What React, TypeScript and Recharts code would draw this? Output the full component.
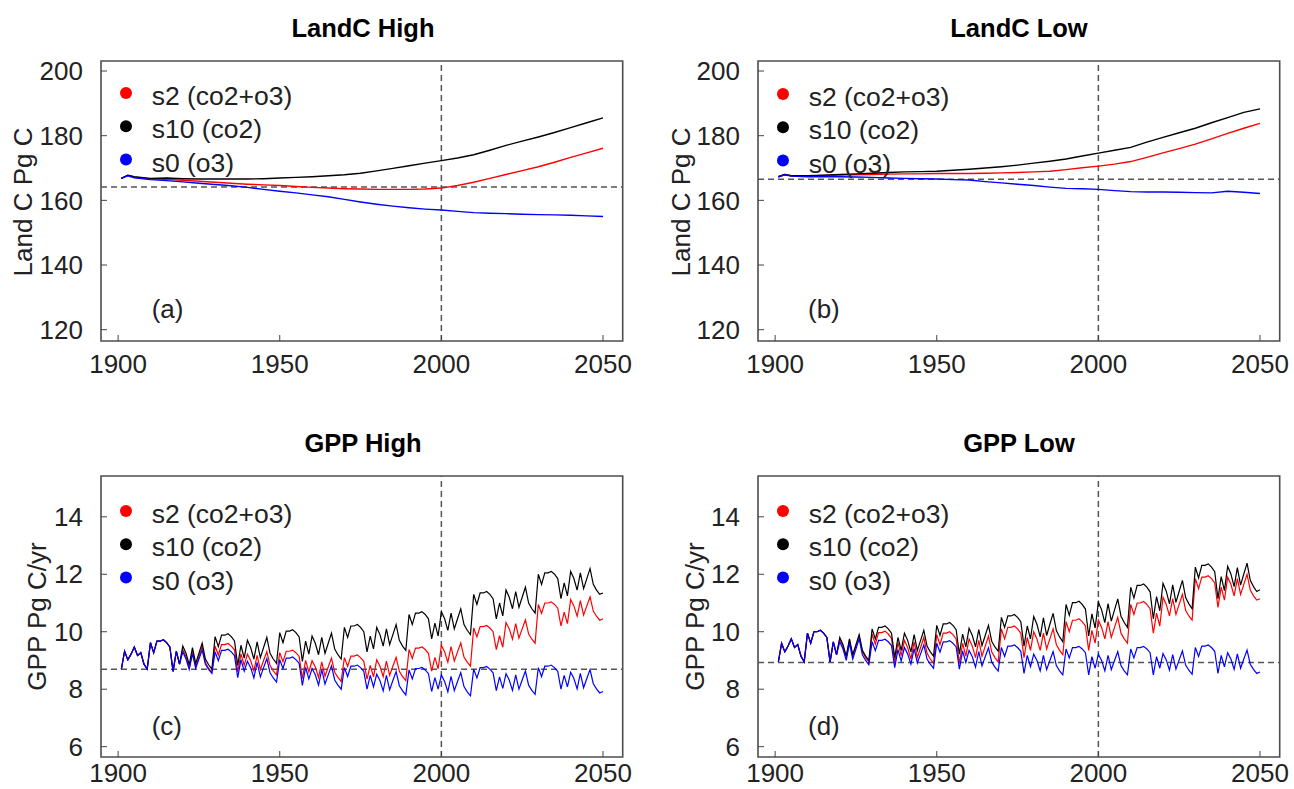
import { LineChart, Line, XAxis, YAxis, ReferenceLine, ReferenceArea, Legend } from 'recharts'

const FONT = "'Liberation Sans', Arial, Helvetica, sans-serif"

// LandC, Pg C
const landYears = [1901, 1903, 1905, 1910, 1915, 1920, 1925, 1930, 1935, 1940, 1945, 1950, 1955, 1960, 1965, 1970,
  1975, 1980, 1985, 1990, 1995, 2000, 2005, 2010, 2015, 2020, 2025, 2030, 2035, 2040, 2045, 2050]

const landHighS2 = [166.8, 167.8, 167.2, 166.6, 166.5, 166.2, 165.9, 165.6, 165.3, 165.0, 164.8, 164.6, 164.3, 164.0, 163.8, 163.6,
  163.5, 163.4, 163.4, 163.4, 163.5, 163.8, 164.6, 165.6, 166.8, 168.0, 169.2, 170.4, 171.8, 173.3, 174.7, 176.1]
const landHighS10 = [166.8, 167.8, 167.3, 166.8, 166.9, 166.7, 166.6, 166.6, 166.6, 166.6, 166.7, 166.9, 167.1, 167.3, 167.6, 167.9,
  168.4, 169.1, 169.9, 170.7, 171.5, 172.3, 173.1, 174.1, 175.5, 177.0, 178.3, 179.6, 181.0, 182.5, 184.0, 185.5]
const landHighS0 = [166.8, 167.6, 167.0, 166.4, 166.1, 165.7, 165.3, 164.9, 164.5, 164.0, 163.4, 162.8, 162.3, 161.7, 161.1, 160.3,
  159.5, 158.8, 158.2, 157.7, 157.3, 157.0, 156.6, 156.2, 156.0, 155.9, 155.7, 155.6, 155.5, 155.4, 155.2, 155.0]

const landLowS2 = [167.3, 168.0, 167.6, 167.5, 167.7, 167.8, 167.9, 168.0, 168.1, 168.2, 168.2, 168.3, 168.3, 168.3, 168.4, 168.5,
  168.6, 168.8, 169.0, 169.5, 170.1, 170.6, 171.2, 172.0, 173.3, 174.7, 176.0, 177.4, 179.0, 180.7, 182.3, 183.8]
const landLowS10 = [167.3, 168.0, 167.6, 167.6, 167.8, 168.0, 168.2, 168.4, 168.6, 168.8, 168.9, 169.0, 169.3, 169.6, 170.0, 170.4,
  170.9, 171.5, 172.1, 172.8, 173.7, 174.6, 175.5, 176.4, 178.0, 179.5, 180.9, 182.3, 184.0, 185.6, 187.2, 188.3]
const landLowS0 = [167.3, 167.9, 167.5, 167.3, 167.4, 167.3, 167.2, 167.1, 166.9, 166.8, 166.7, 166.6, 166.4, 166.3, 165.8, 165.4,
  165.0, 164.6, 164.1, 163.7, 163.6, 163.4, 163.0, 162.7, 162.6, 162.6, 162.5, 162.4, 162.3, 162.8, 162.5, 162.1]

// GPP, Pg C/yr, one value per year 1901-2050
const gppYears = Array.from({ length: 150 }, (_, i) => 1901 + i)

const gppHighS2 = [
  8.70, 9.32, 9.02, 9.22, 9.47, 9.17, 9.27, 8.87, 8.70, 9.62,
  9.27, 9.67, 9.67, 9.72, 9.62, 9.47, 8.62, 9.32, 8.87, 9.38,
  9.13, 8.73, 9.33, 8.78, 9.13, 9.48, 8.93, 8.73, 8.58, 9.50,
  9.19, 9.55, 9.55, 9.59, 9.50, 9.37, 8.60, 9.23, 8.83, 9.22,
  9.00, 8.64, 9.18, 8.68, 9.00, 9.31, 8.82, 8.64, 8.50, 9.27,
  8.96, 9.32, 9.32, 9.36, 9.27, 9.14, 8.37, 9.00, 8.60, 8.99,
  8.77, 8.41, 8.95, 8.45, 8.77, 9.08, 8.59, 8.41, 8.27, 9.10,
  8.79, 9.15, 9.15, 9.19, 9.10, 8.97, 8.35, 8.83, 8.43, 9.02,
  8.80, 8.44, 8.98, 8.48, 8.80, 9.11, 8.62, 8.44, 8.30, 9.38,
  9.07, 9.43, 9.43, 9.47, 9.38, 9.25, 8.63, 9.11, 8.71, 9.52,
  9.30, 8.94, 9.48, 8.98, 9.30, 9.61, 9.12, 8.94, 8.80, 10.13,
  9.82, 10.18, 10.18, 10.22, 10.13, 10.00, 9.38, 9.86, 9.46, 10.32,
  10.10, 9.74, 10.28, 9.78, 10.10, 10.41, 9.92, 9.74, 9.60, 10.95,
  10.64, 11.00, 11.00, 11.04, 10.95, 10.82, 10.20, 10.68, 10.28, 11.12,
  10.90, 10.54, 11.08, 10.58, 10.90, 11.21, 10.72, 10.54, 10.40, 10.45,
]
const gppHighS10 = [
  8.70, 9.32, 9.02, 9.22, 9.47, 9.17, 9.27, 8.87, 8.70, 9.62,
  9.27, 9.67, 9.67, 9.72, 9.62, 9.47, 8.62, 9.32, 8.87, 9.50,
  9.25, 8.85, 9.45, 8.90, 9.25, 9.60, 9.05, 8.85, 8.70, 9.83,
  9.48, 9.88, 9.88, 9.93, 9.83, 9.68, 8.83, 9.53, 9.08, 9.70,
  9.45, 9.05, 9.65, 9.10, 9.45, 9.80, 9.25, 9.05, 8.90, 9.97,
  9.62, 10.02, 10.02, 10.07, 9.97, 9.82, 8.97, 9.67, 9.22, 9.85,
  9.60, 9.20, 9.80, 9.25, 9.60, 9.95, 9.40, 9.20, 9.05, 10.15,
  9.80, 10.20, 10.20, 10.25, 10.15, 10.00, 9.30, 9.85, 9.40, 10.15,
  9.90, 9.50, 10.10, 9.55, 9.90, 10.25, 9.70, 9.50, 9.35, 10.60,
  10.25, 10.65, 10.65, 10.70, 10.60, 10.45, 9.75, 10.30, 9.85, 10.70,
  10.45, 10.05, 10.65, 10.10, 10.45, 10.80, 10.25, 10.05, 9.90, 11.30,
  10.95, 11.35, 11.35, 11.40, 11.30, 11.15, 10.45, 11.00, 10.55, 11.45,
  11.20, 10.80, 11.40, 10.85, 11.20, 11.55, 11.00, 10.80, 10.65, 12.00,
  11.65, 12.05, 12.05, 12.10, 12.00, 11.85, 11.15, 11.70, 11.25, 12.10,
  11.85, 11.45, 12.05, 11.50, 11.85, 12.20, 11.65, 11.45, 11.30, 11.35,
]
const gppHighS0 = [
  8.70, 9.32, 9.02, 9.22, 9.47, 9.17, 9.27, 8.87, 8.70, 9.62,
  9.27, 9.67, 9.67, 9.72, 9.62, 9.47, 8.62, 9.32, 8.87, 9.30,
  9.05, 8.69, 9.23, 8.73, 9.05, 9.36, 8.87, 8.69, 8.55, 9.30,
  8.99, 9.35, 9.35, 9.39, 9.30, 9.17, 8.40, 9.03, 8.63, 8.97,
  8.75, 8.39, 8.93, 8.43, 8.75, 9.06, 8.57, 8.39, 8.25, 9.03,
  8.72, 9.08, 9.08, 9.12, 9.03, 8.90, 8.13, 8.76, 8.36, 8.72,
  8.50, 8.14, 8.68, 8.18, 8.50, 8.81, 8.32, 8.14, 8.00, 8.75,
  8.44, 8.80, 8.80, 8.84, 8.75, 8.62, 8.00, 8.48, 8.08, 8.52,
  8.30, 7.94, 8.48, 7.98, 8.30, 8.61, 8.12, 7.94, 7.80, 8.67,
  8.36, 8.72, 8.72, 8.76, 8.67, 8.54, 7.92, 8.40, 8.00, 8.49,
  8.27, 7.91, 8.45, 7.95, 8.27, 8.58, 8.09, 7.91, 7.77, 8.70,
  8.39, 8.75, 8.75, 8.79, 8.70, 8.57, 7.95, 8.43, 8.03, 8.54,
  8.32, 7.96, 8.50, 8.00, 8.32, 8.63, 8.14, 7.96, 7.82, 8.75,
  8.44, 8.80, 8.80, 8.84, 8.75, 8.62, 8.00, 8.48, 8.08, 8.59,
  8.37, 8.01, 8.55, 8.05, 8.37, 8.68, 8.19, 8.01, 7.87, 7.92,
]

const gppLowS2 = [
  8.95, 9.60, 9.30, 9.50, 9.75, 9.45, 9.55, 9.15, 8.95, 9.95,
  9.60, 10.00, 10.00, 10.05, 9.95, 9.80, 8.95, 9.65, 9.20, 9.75,
  9.50, 9.10, 9.70, 9.15, 9.50, 9.85, 9.30, 9.10, 8.95, 9.92,
  9.57, 9.97, 9.97, 10.02, 9.92, 9.77, 8.92, 9.62, 9.17, 9.70,
  9.45, 9.05, 9.65, 9.10, 9.45, 9.80, 9.25, 9.05, 8.90, 9.90,
  9.55, 9.95, 9.95, 10.00, 9.90, 9.75, 8.90, 9.60, 9.15, 9.75,
  9.50, 9.10, 9.70, 9.15, 9.50, 9.85, 9.30, 9.10, 8.95, 10.10,
  9.75, 10.15, 10.15, 10.20, 10.10, 9.95, 9.10, 9.80, 9.35, 10.00,
  9.75, 9.35, 9.95, 9.40, 9.75, 10.10, 9.55, 9.35, 9.20, 10.35,
  10.00, 10.40, 10.40, 10.45, 10.35, 10.20, 9.35, 10.05, 9.60, 10.40,
  10.15, 9.75, 10.35, 9.80, 10.15, 10.50, 9.95, 9.75, 9.60, 10.95,
  10.60, 11.00, 11.00, 11.05, 10.95, 10.80, 9.95, 10.65, 10.20, 11.20,
  10.95, 10.55, 11.15, 10.60, 10.95, 11.30, 10.75, 10.55, 10.40, 11.85,
  11.50, 11.90, 11.90, 11.95, 11.85, 11.70, 10.85, 11.55, 11.10, 11.90,
  11.65, 11.25, 11.85, 11.30, 11.65, 12.00, 11.45, 11.25, 11.10, 11.15,
]
const gppLowS10 = [
  8.95, 9.60, 9.30, 9.50, 9.75, 9.45, 9.55, 9.15, 8.95, 9.95,
  9.60, 10.00, 10.00, 10.05, 9.95, 9.80, 8.95, 9.65, 9.20, 9.80,
  9.55, 9.15, 9.75, 9.20, 9.55, 9.90, 9.35, 9.15, 9.00, 10.10,
  9.75, 10.15, 10.15, 10.20, 10.10, 9.95, 9.10, 9.80, 9.35, 9.95,
  9.70, 9.30, 9.90, 9.35, 9.70, 10.05, 9.50, 9.30, 9.15, 10.22,
  9.87, 10.27, 10.27, 10.32, 10.22, 10.07, 9.22, 9.92, 9.47, 10.12,
  9.87, 9.47, 10.07, 9.52, 9.87, 10.22, 9.67, 9.47, 9.32, 10.50,
  10.15, 10.55, 10.55, 10.60, 10.50, 10.35, 9.50, 10.20, 9.75, 10.53,
  10.26, 9.82, 10.48, 9.87, 10.26, 10.64, 10.04, 9.82, 9.65, 10.95,
  10.57, 11.01, 11.01, 11.06, 10.95, 10.79, 9.85, 10.62, 10.13, 11.03,
  10.76, 10.32, 10.98, 10.37, 10.76, 11.14, 10.54, 10.32, 10.15, 11.55,
  11.17, 11.61, 11.61, 11.66, 11.55, 11.39, 10.45, 11.22, 10.73, 11.68,
  11.41, 10.97, 11.63, 11.02, 11.41, 11.79, 11.19, 10.97, 10.80, 12.25,
  11.87, 12.31, 12.31, 12.36, 12.25, 12.09, 11.15, 11.92, 11.43, 12.28,
  12.01, 11.57, 12.23, 11.62, 12.01, 12.39, 11.79, 11.57, 11.40, 11.46,
]
const gppLowS0 = [
  8.95, 9.60, 9.30, 9.50, 9.75, 9.45, 9.55, 9.15, 8.95, 9.95,
  9.60, 10.00, 10.00, 10.05, 9.95, 9.80, 8.95, 9.65, 9.20, 9.65,
  9.40, 9.00, 9.60, 9.05, 9.40, 9.75, 9.20, 9.00, 8.85, 9.65,
  9.34, 9.70, 9.70, 9.74, 9.65, 9.52, 8.75, 9.38, 8.98, 9.45,
  9.23, 8.87, 9.41, 8.91, 9.23, 9.54, 9.05, 8.87, 8.73, 9.60,
  9.29, 9.65, 9.65, 9.69, 9.60, 9.47, 8.70, 9.33, 8.93, 9.35,
  9.13, 8.77, 9.31, 8.81, 9.13, 9.44, 8.95, 8.77, 8.63, 9.45,
  9.14, 9.50, 9.50, 9.54, 9.45, 9.32, 8.55, 9.18, 8.78, 9.22,
  9.00, 8.64, 9.18, 8.68, 9.00, 9.31, 8.82, 8.64, 8.50, 9.40,
  9.09, 9.45, 9.45, 9.49, 9.40, 9.27, 8.50, 9.13, 8.73, 9.22,
  9.00, 8.64, 9.18, 8.68, 9.00, 9.31, 8.82, 8.64, 8.50, 9.40,
  9.09, 9.45, 9.45, 9.49, 9.40, 9.27, 8.50, 9.13, 8.73, 9.24,
  9.02, 8.66, 9.20, 8.70, 9.02, 9.33, 8.84, 8.66, 8.52, 9.45,
  9.14, 9.50, 9.50, 9.54, 9.45, 9.32, 8.55, 9.18, 8.78, 9.27,
  9.05, 8.69, 9.23, 8.73, 9.05, 9.36, 8.87, 8.69, 8.55, 8.60,
]

const xTicks = [1900, 1950, 2000, 2050]
const landTicks = [120, 140, 160, 180, 200]
const gppTicks = [6, 8, 10, 12, 14]

const series = [
  { key: 's2', name: 's2 (co2+o3)', color: '#ff0000' },
  { key: 's10', name: 's10 (co2)', color: '#000000' },
  { key: 's0', name: 's0 (o3)', color: '#0000ff' },
]

const rows = (years: number[], s2: number[], s10: number[], s0: number[]) =>
  years.map((year, i) => ({ year, s2: s2[i], s10: s10[i], s0: s0[i] }))

const X_DOMAIN: [number, number] = [1894.7, 2056.1]

const seriesIndex = (key: string) => series.findIndex((s) => s.key === key)

const LegendBox = ({ payload }: any) => {
  const items = [...(payload || [])].sort((a: any, b: any) => seriesIndex(a.dataKey) - seriesIndex(b.dataKey))
  return (
    <svg width={320} height={112} style={{ display: 'block', overflow: 'visible' }}>
      {items.map((p: any, i: number) => (
        <g key={p.value}>
          <circle cx={7} cy={8 + i * 33.3} r={6} fill={p.color} />
          <text x={32.7} y={20 + i * 33.3} fontSize={26.5} fill='#222' fontFamily={FONT}>{p.value}</text>
        </g>
      ))}
    </svg>
  )
}

type PanelProps = {
  left: number
  top: number
  height: number
  xAxisHeight: number
  bottomMargin: number
  xTickMargin: number
  data: any[]
  yDomain: [number, number]
  yTicks: number[]
  baseline: number
  lineWidth: number
  legendTop: number
}

const Panel = ({ left, top, height, xAxisHeight, bottomMargin, xTickMargin, data, yDomain, yTicks, baseline, lineWidth, legendTop }: PanelProps) => (
  <div style={{ position: 'absolute', left, top }}>
    <LineChart width={650} height={height} data={data} margin={{ top: 61, right: 27.3, bottom: bottomMargin, left: 0 }}>
      <XAxis
        dataKey='year'
        type='number'
        domain={X_DOMAIN}
        ticks={xTicks}
        interval={0}
        allowDataOverflow
        height={xAxisHeight}
        axisLine={false}
        tickLine={{ stroke: '#444' }}
        tickSize={-6}
        tickMargin={xTickMargin}
        tick={{ fontSize: 26, fill: '#222', fontFamily: FONT }}
      />
      <YAxis
        type='number'
        domain={yDomain}
        ticks={yTicks}
        interval={0}
        allowDataOverflow
        width={101}
        axisLine={false}
        tickLine={{ stroke: '#444' }}
        tickSize={-6}
        tickMargin={24}
        tick={{ fontSize: 26, fill: '#222', fontFamily: FONT }}
      />
      <ReferenceArea x1={X_DOMAIN[0]} x2={X_DOMAIN[1]} y1={yDomain[0]} y2={yDomain[1]} fill='none' stroke='#4d4d4d' strokeWidth={1.6} ifOverflow='visible' />
      <ReferenceLine y={baseline} stroke='#555' strokeDasharray='6 4' strokeWidth={1.5} />
      <ReferenceLine x={2000} stroke='#555' strokeDasharray='6 4' strokeWidth={1.5} />
      {series.map((s) => (
        <Line key={s.key} type='linear' dataKey={s.key} name={s.name} stroke={s.color} strokeWidth={lineWidth} dot={false} isAnimationActive={false} />
      ))}
      <Legend layout='vertical' align='center' verticalAlign='middle' content={LegendBox} wrapperStyle={{ left: 119, top: legendTop, width: 320, height: 112 }} />
    </LineChart>
  </div>
)

const titles = [
  { text: 'LandC High', x: 363, y: 36.7 },
  { text: 'LandC Low', x: 1019, y: 36.7 },
  { text: 'GPP High', x: 363, y: 452 },
  { text: 'GPP Low', x: 1019, y: 452 },
]
const yLabels = [
  { text: 'Land C Pg C', x: 32, y: 202 },
  { text: 'Land C Pg C', x: 690, y: 202 },
  { text: 'GPP Pg C/yr', x: 46, y: 616.5 },
  { text: 'GPP Pg C/yr', x: 704, y: 616.5 },
]
const letters = [
  { text: '(a)', x: 151.7, y: 318 },
  { text: '(b)', x: 808, y: 318 },
  { text: '(c)', x: 151.7, y: 735 },
  { text: '(d)', x: 808, y: 735 },
]

export default function App() {
  return (
    <div style={{ position: 'absolute', left: 0, top: 0, width: 1294, height: 789, background: '#fff', fontFamily: FONT, overflow: 'hidden' }}>
      <Panel left={0} top={0} height={390} xAxisHeight={40} bottomMargin={9} xTickMargin={20} data={rows(landYears, landHighS2, landHighS10, landHighS0)} yDomain={[116.5, 203.1]} yTicks={landTicks} baseline={164.1} lineWidth={1.4} legendTop={84.5} />
      <Panel left={657} top={0} height={390} xAxisHeight={40} bottomMargin={9} xTickMargin={20} data={rows(landYears, landLowS2, landLowS10, landLowS0)} yDomain={[116.5, 203.1]} yTicks={landTicks} baseline={166.5} lineWidth={1.4} legendTop={85.5} />
      <Panel left={0} top={415} height={374} xAxisHeight={30} bottomMargin={2} xTickMargin={13} data={rows(gppYears, gppHighS2, gppHighS10, gppHighS0)} yDomain={[5.64, 15.42]} yTicks={gppTicks} baseline={8.69} lineWidth={1.2} legendTop={87.5} />
      <Panel left={657} top={415} height={374} xAxisHeight={30} bottomMargin={2} xTickMargin={13} data={rows(gppYears, gppLowS2, gppLowS10, gppLowS0)} yDomain={[5.64, 15.42]} yTicks={gppTicks} baseline={8.93} lineWidth={1.2} legendTop={87.5} />
      <svg width={1294} height={789} style={{ position: 'absolute', left: 0, top: 0, pointerEvents: 'none' }}>
        {titles.map((t) => (
          <text key={t.text} x={t.x} y={t.y} textAnchor='middle' fontSize={25.5} fontWeight={700} fill='#000' fontFamily={FONT}>{t.text}</text>
        ))}
        {yLabels.map((t, i) => (
          <text key={i} transform={`translate(${t.x},${t.y}) rotate(-90)`} textAnchor='middle' fontSize={26} fill='#222' fontFamily={FONT}>{t.text}</text>
        ))}
        {letters.map((t) => (
          <text key={t.text} x={t.x} y={t.y} fontSize={26} fill='#222' fontFamily={FONT}>{t.text}</text>
        ))}
      </svg>
    </div>
  )
}
